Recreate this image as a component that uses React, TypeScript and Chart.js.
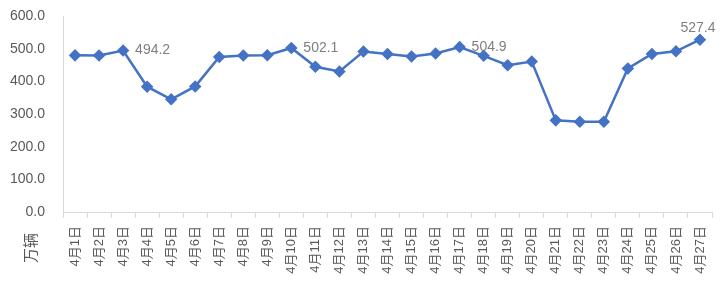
import React, { useEffect, useRef } from "react";
import { Chart, registerables } from "chart.js";

Chart.register(...registerables);

const categories: string[] = [
  "4月1日", "4月2日", "4月3日", "4月4日", "4月5日", "4月6日", "4月7日", "4月8日", "4月9日",
  "4月10日", "4月11日", "4月12日", "4月13日", "4月14日", "4月15日", "4月16日", "4月17日",
  "4月18日", "4月19日", "4月20日", "4月21日", "4月22日", "4月23日", "4月24日", "4月25日",
  "4月26日", "4月27日",
];
const values: number[] = [
  479.5, 479.3, 494.2, 383.5, 345.0, 384.5, 474.5, 479.0, 480.0,
  502.1, 444.5, 430.0, 491.0, 484.0, 476.0, 485.0, 504.9,
  478.0, 449.5, 460.5, 280.5, 276.0, 276.5, 439.5, 484.0,
  492.0, 527.4,
];
const labeledIndices: number[] = [2, 9, 16, 26];
const yTicks: number[] = [0, 100, 200, 300, 400, 500, 600];
const yTitle = "万辆";

const FONT = "'Liberation Sans', 'Noto Sans CJK SC', sans-serif";

const labelPlugin = {
  id: "pointLabels",
  afterDatasetsDraw(chart: any) {
    const ctx = chart.ctx;
    const meta = chart.getDatasetMeta(0);
    ctx.save();
    ctx.font = `14px ${FONT}`;
    ctx.fillStyle = "#7f7f7f";
    labeledIndices.forEach((i) => {
      const pt = meta.data[i];
      const txt = values[i].toFixed(1);
      if (i === values.length - 1) {
        ctx.textAlign = "center";
        ctx.textBaseline = "bottom";
        ctx.fillText(txt, pt.x - 2, pt.y - 5);
      } else {
        ctx.textAlign = "left";
        ctx.textBaseline = "middle";
        ctx.fillText(txt, pt.x + 12, pt.y);
      }
    });
    // axis title
    ctx.translate(32, 248);
    ctx.rotate(-Math.PI / 2);
    ctx.textAlign = "center";
    ctx.textBaseline = "middle";
    ctx.fillStyle = "#595959";
    ctx.font = `15px ${FONT}`;
    ctx.fillText(yTitle, 0, 0);
    ctx.restore();
  },
};

export default function App() {
  const ref = useRef<HTMLCanvasElement>(null);
  useEffect(() => {
    if (!ref.current) return;
    const chart = new Chart(ref.current, {
      type: "line",
      data: {
        labels: categories,
        datasets: [
          {
            data: values,
            borderColor: "#4472C4",
            backgroundColor: "#4472C4",
            borderWidth: 2.5,
            pointStyle: "rectRot",
            pointRadius: 4.5,
            pointBackgroundColor: "#4472C4",
            pointBorderColor: "#4472C4",
            tension: 0,
          },
        ],
      },
      options: {
        animation: false,
        responsive: false,
        maintainAspectRatio: false,
        layout: { padding: { left: 0, right: 14, top: 16, bottom: 0 } },
        plugins: { legend: { display: false }, tooltip: { enabled: false } },
        scales: {
          x: {
            offset: true,
            grid: {
              offset: true,
              drawOnChartArea: false,
              drawTicks: true,
              tickLength: 6,
              color: "#d9d9d9",
            },
            border: { display: true, color: "#d9d9d9", width: 1 },
            ticks: {
              autoSkip: false,
              minRotation: 90,
              maxRotation: 90,
              padding: 8,
              color: "#595959",
              font: { family: FONT, size: 13 },
            },
            afterFit: (s: any) => {
              s.height = 76;
            },
          },
          y: {
            min: 0,
            max: 600,
            afterBuildTicks: (s: any) => {
              s.ticks = yTicks.map((v) => ({ value: v }));
            },
            grid: {
              display: true,
              drawOnChartArea: false,
              drawTicks: true,
              tickLength: 18,
              color: "rgba(0,0,0,0)",
            },
            border: { display: true, color: "#d9d9d9", width: 1 },
            ticks: {
              padding: 0,
              color: "#595959",
              font: { family: FONT, size: 14 },
              callback: (v: any) => Number(v).toFixed(1),
            },
            afterFit: (s: any) => {
              s.width = 63;
            },
          },
        },
      },
      plugins: [labelPlugin],
    });
    return () => chart.destroy();
  }, []);
  return (
    <div style={{ position: "fixed", left: 0, top: 0, width: 726, height: 288, background: "#fff" }}>
      <canvas ref={ref} width={726} height={288} style={{ width: 726, height: 288 }} />
    </div>
  );
}
